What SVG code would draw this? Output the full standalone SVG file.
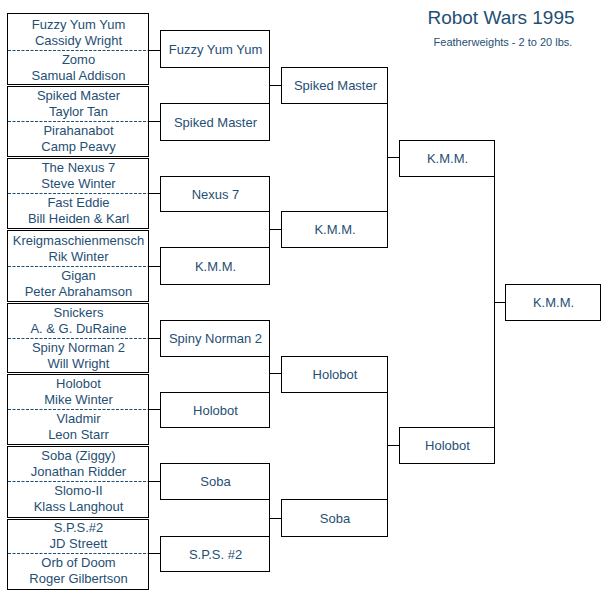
<svg xmlns="http://www.w3.org/2000/svg" width="610" height="595" viewBox="0 0 610 595">
<style>
  text { font-family: "Liberation Sans", Arial, sans-serif; fill: #1f4f74; text-anchor: middle; }
  .t { font-size: 13px; }
  .box { fill: #ffffff; stroke: #000000; stroke-width: 1; }
  .dash { stroke: #1f4f74; stroke-width: 1; stroke-dasharray: 3 1.5; fill: none; }
  .conn { stroke: #000000; stroke-width: 1; fill: none; }
</style>
<rect x="0" y="0" width="610" height="595" fill="#ffffff"/>
<g id="title">
  <text x="501" y="24" style="font-size:19px">Robot Wars 1995</text>
  <text x="503" y="46" style="font-size:11px">Featherweights - 2 to 20 lbs.</text>
</g>
<g id="connectors">
  <path class="conn" d="M148.5 50.5H160.5 M148.5 121.5H160.5 M148.5 193.5H160.5 M148.5 266.5H160.5 M148.5 338.5H160.5 M148.5 409.5H160.5 M148.5 481.5H160.5 M148.5 553.5H160.5"/>
  <path class="conn" d="M269.5 67.5V103.5 M269.5 85.5H281.5 M269.5 211.5V247.5 M269.5 229.5H281.5 M269.5 356.5V392.5 M269.5 373.5H281.5 M269.5 499.5V536.5 M269.5 518.5H281.5"/>
  <path class="conn" d="M387.5 103.5V211.5 M387.5 157.5H399.5 M387.5 392.5V499.5 M387.5 445.5H399.5"/>
  <path class="conn" d="M494.5 176.5V427.5 M494.5 302.5H505.5"/>
</g>
<g id="match1">
  <rect class="box" x="7.5" y="13.5" width="141" height="71"/>
  <line class="dash" x1="8" y1="50.5" x2="148" y2="50.5"/>
  <text class="t" x="78.5" y="28.5">Fuzzy Yum Yum</text>
  <text class="t" x="78.5" y="45">Cassidy Wright</text>
  <text class="t" x="78.5" y="64">Zomo</text>
  <text class="t" x="78.5" y="80">Samual Addison</text>
</g>
<g id="match2">
  <rect class="box" x="7.5" y="86.5" width="141" height="70"/>
  <line class="dash" x1="8" y1="121.5" x2="148" y2="121.5"/>
  <text class="t" x="78.5" y="99.5">Spiked Master</text>
  <text class="t" x="78.5" y="116">Taylor Tan</text>
  <text class="t" x="78.5" y="135">Pirahanabot</text>
  <text class="t" x="78.5" y="151">Camp Peavy</text>
</g>
<g id="match3">
  <rect class="box" x="7.5" y="158.5" width="141" height="70"/>
  <line class="dash" x1="8" y1="193.5" x2="148" y2="193.5"/>
  <text class="t" x="78.5" y="171.5">The Nexus 7</text>
  <text class="t" x="78.5" y="188">Steve Winter</text>
  <text class="t" x="78.5" y="207">Fast Eddie</text>
  <text class="t" x="78.5" y="223">Bill Heiden &amp; Karl</text>
</g>
<g id="match4">
  <rect class="box" x="7.5" y="230.5" width="141" height="71"/>
  <line class="dash" x1="8" y1="266.5" x2="148" y2="266.5"/>
  <text class="t" x="78.5" y="244.5">Kreigmaschienmensch</text>
  <text class="t" x="78.5" y="261">Rik Winter</text>
  <text class="t" x="78.5" y="280">Gigan</text>
  <text class="t" x="78.5" y="296">Peter Abrahamson</text>
</g>
<g id="match5">
  <rect class="box" x="7.5" y="303.5" width="141" height="69"/>
  <line class="dash" x1="8" y1="338.5" x2="148" y2="338.5"/>
  <text class="t" x="78.5" y="316.5">Snickers</text>
  <text class="t" x="78.5" y="333">A. &amp; G. DuRaine</text>
  <text class="t" x="78.5" y="352">Spiny Norman 2</text>
  <text class="t" x="78.5" y="368">Will Wright</text>
</g>
<g id="match6">
  <rect class="box" x="7.5" y="374.5" width="141" height="70"/>
  <line class="dash" x1="8" y1="409.5" x2="148" y2="409.5"/>
  <text class="t" x="78.5" y="387.5">Holobot</text>
  <text class="t" x="78.5" y="404">Mike Winter</text>
  <text class="t" x="78.5" y="423">Vladmir</text>
  <text class="t" x="78.5" y="439">Leon Starr</text>
</g>
<g id="match7">
  <rect class="box" x="7.5" y="446.5" width="141" height="71"/>
  <line class="dash" x1="8" y1="481.5" x2="148" y2="481.5"/>
  <text class="t" x="78.5" y="459.5">Soba (Ziggy)</text>
  <text class="t" x="78.5" y="476">Jonathan Ridder</text>
  <text class="t" x="78.5" y="495">Slomo-II</text>
  <text class="t" x="78.5" y="511">Klass Langhout</text>
</g>
<g id="match8">
  <rect class="box" x="7.5" y="519.5" width="141" height="70"/>
  <line class="dash" x1="8" y1="553.5" x2="148" y2="553.5"/>
  <text class="t" x="78.5" y="531.5">S.P.S.#2</text>
  <text class="t" x="78.5" y="548">JD Streett</text>
  <text class="t" x="78.5" y="567">Orb of Doom</text>
  <text class="t" x="78.5" y="583">Roger Gilbertson</text>
</g>
<g id="r2-1"><rect class="box" x="160.5" y="30.5" width="109" height="37"/><text class="t" x="215.5" y="53.5">Fuzzy Yum Yum</text></g>
<g id="r2-2"><rect class="box" x="160.5" y="103.5" width="109" height="37"/><text class="t" x="215.5" y="126.5">Spiked Master</text></g>
<g id="r2-3"><rect class="box" x="160.5" y="176.5" width="109" height="35"/><text class="t" x="215.5" y="198.5">Nexus 7</text></g>
<g id="r2-4"><rect class="box" x="160.5" y="247.5" width="109" height="37"/><text class="t" x="215.5" y="270.5">K.M.M.</text></g>
<g id="r2-5"><rect class="box" x="160.5" y="320.5" width="109" height="36"/><text class="t" x="215.5" y="343">Spiny Norman 2</text></g>
<g id="r2-6"><rect class="box" x="160.5" y="392.5" width="109" height="35"/><text class="t" x="215.5" y="414.5">Holobot</text></g>
<g id="r2-7"><rect class="box" x="160.5" y="463.5" width="109" height="36"/><text class="t" x="215.5" y="486">Soba</text></g>
<g id="r2-8"><rect class="box" x="160.5" y="536.5" width="109" height="35"/><text class="t" x="215.5" y="558.5">S.P.S. #2</text></g>
<g id="r3-1"><rect class="box" x="281.5" y="67.5" width="106" height="36"/><text class="t" x="335.5" y="90">Spiked Master</text></g>
<g id="r3-2"><rect class="box" x="281.5" y="211.5" width="106" height="36"/><text class="t" x="335" y="234">K.M.M.</text></g>
<g id="r3-3"><rect class="box" x="281.5" y="356.5" width="106" height="36"/><text class="t" x="335" y="379">Holobot</text></g>
<g id="r3-4"><rect class="box" x="281.5" y="499.5" width="106" height="37"/><text class="t" x="335" y="522.5">Soba</text></g>
<g id="r4-1"><rect class="box" x="399.5" y="140.5" width="95" height="36"/><text class="t" x="447.5" y="163">K.M.M.</text></g>
<g id="r4-2"><rect class="box" x="399.5" y="427.5" width="95" height="36"/><text class="t" x="447.5" y="450">Holobot</text></g>
<g id="winner"><rect class="box" x="505.5" y="284.5" width="95" height="36"/><text class="t" x="553.5" y="307">K.M.M.</text></g>
</svg>
